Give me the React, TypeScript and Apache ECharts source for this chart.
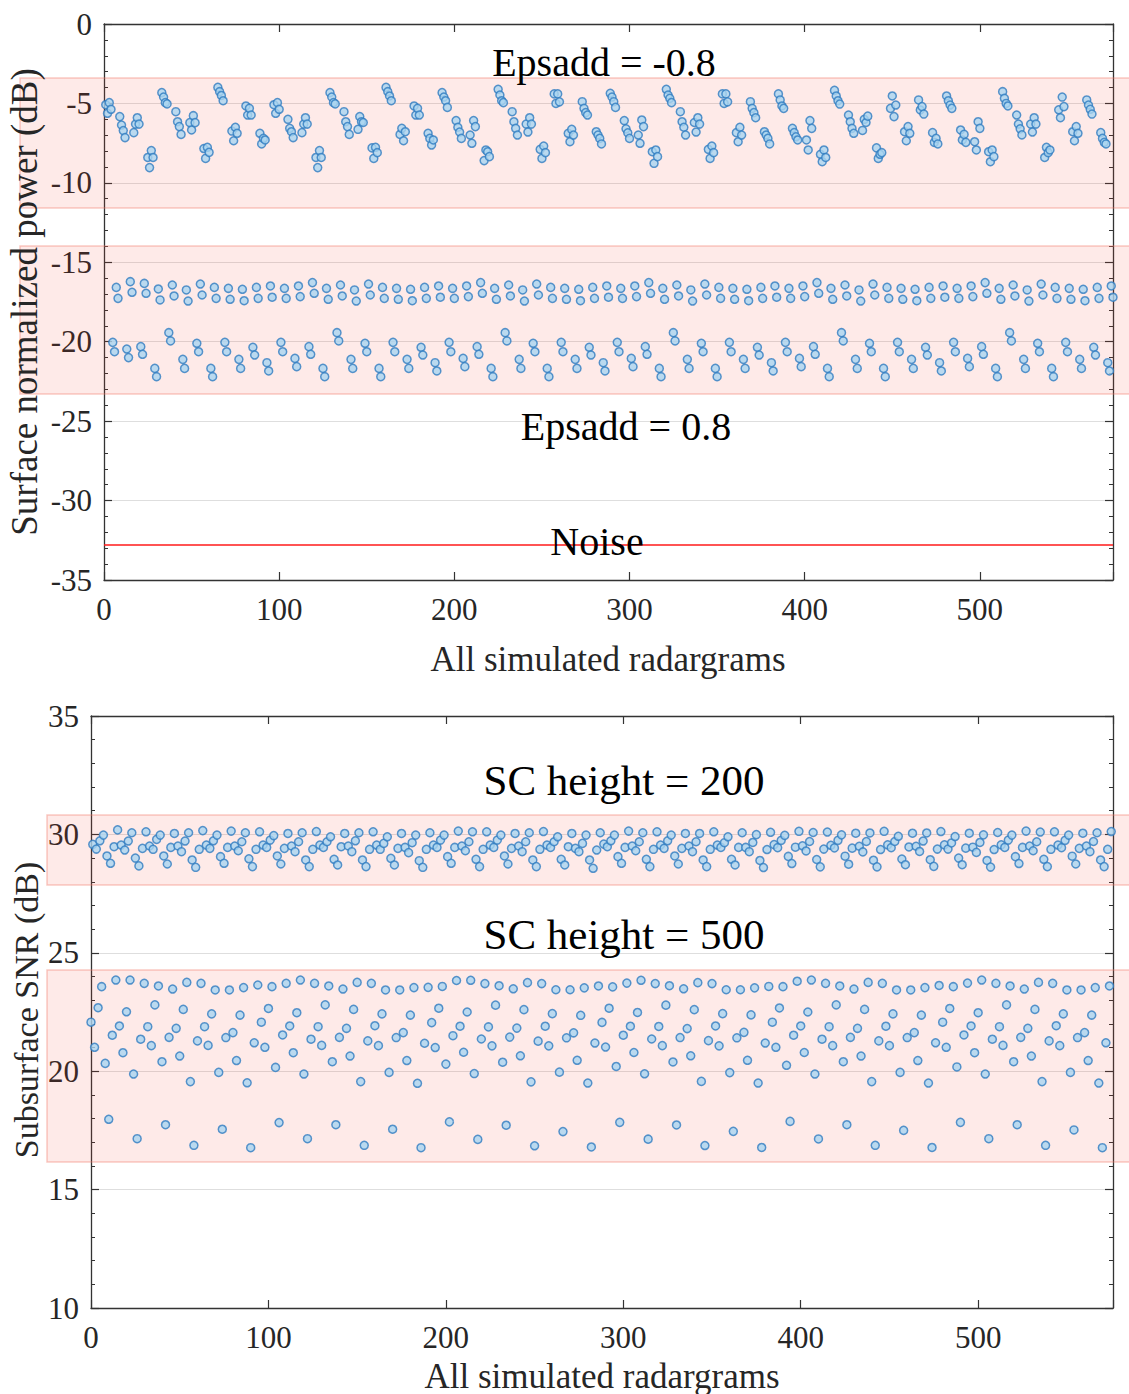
import React, { useEffect, useRef } from 'react';
import * as echarts from 'echarts';

// ---------------- DATA ----------------
const xMax = 576;
const noiseLevel = -32.8;

// Surface power, Epsadd = -0.8 : 72 blocks of 4 radargrams
const epsNeg: number[][] = [
  [-5.08, -5.62, -4.95, -5.37], [-5.83, -6.36, -6.71, -7.15], [-6.84, -6.3, -5.9, -6.3], [-8.4, -9.04, -7.97, -8.4],
  [-4.32, -4.6, -4.95, -5.03], [-5.52, -6.15, -6.46, -6.95], [-6.21, -6.67, -5.77, -6.21], [-7.84, -8.46, -7.76, -8.08],
  [-3.99, -4.26, -4.5, -4.83], [-6.74, -7.35, -6.5, -6.88], [-5.16, -5.73, -5.31, -5.73], [-6.88, -7.55, -7.2, -7.3],
  [-5.08, -5.62, -4.95, -5.37], [-6.0, -6.57, -6.78, -7.15], [-6.84, -6.3, -5.9, -6.3], [-8.4, -9.04, -7.97, -8.4],
  [-4.32, -4.6, -4.95, -5.03], [-5.52, -6.15, -6.46, -6.95], [-6.63, -5.83, -6.15, -6.2], [-7.8, -8.46, -7.76, -8.1],
  [-3.99, -4.26, -4.53, -4.83], [-6.95, -6.57, -7.35, -6.78], [-5.16, -5.73, -5.31, -5.73], [-6.88, -7.2, -7.62, -7.3],
  [-4.32, -4.6, -4.83, -5.25], [-6.08, -6.5, -6.8, -7.2], [-6.99, -7.51, -6.08, -6.46], [-8.6, -7.93, -8.04, -8.35],
  [-4.11, -4.47, -4.83, -4.95], [-5.52, -6.15, -6.57, -6.99], [-6.3, -6.8, -5.9, -6.3], [-7.89, -8.46, -7.68, -8.1],
  [-4.4, -5.0, -4.4, -4.9], [-6.88, -7.41, -6.63, -6.99], [-4.89, -5.31, -5.58, -5.73], [-6.78, -6.99, -7.2, -7.55],
  [-4.36, -4.6, -4.89, -5.25], [-6.08, -6.6, -6.85, -7.2], [-6.99, -7.51, -6.04, -6.46], [-8.04, -8.77, -7.93, -8.35],
  [-4.11, -4.47, -4.68, -4.95], [-5.52, -6.15, -6.5, -6.99], [-6.2, -6.8, -5.9, -6.3], [-7.89, -8.46, -7.68, -8.1],
  [-4.4, -5.0, -4.4, -4.9], [-6.84, -7.41, -6.5, -6.99], [-4.89, -5.31, -5.58, -5.9], [-6.78, -6.99, -7.2, -7.55],
  [-4.4, -4.78, -5.16, -5.31], [-6.57, -6.84, -7.1, -7.3], [-7.3, -7.93, -6.08, -6.57], [-8.2, -8.67, -7.93, -8.4],
  [-4.18, -4.53, -4.83, -5.04], [-5.73, -6.15, -6.57, -6.88], [-6.7, -6.0, -6.2, -5.8], [-7.8, -8.46, -8.2, -8.1],
  [-5.31, -4.53, -5.83, -5.1], [-6.78, -7.35, -6.46, -6.88], [-4.78, -5.41, -5.2, -5.67], [-6.84, -7.45, -7.2, -7.55],
  [-4.53, -4.83, -5.1, -5.31], [-6.67, -7.3, -6.95, -7.45], [-7.41, -7.93, -6.15, -6.57], [-8.04, -8.67, -7.93, -8.35],
  [-4.26, -4.68, -5.0, -5.16], [-5.73, -6.3, -6.6, -6.98], [-6.3, -6.8, -5.9, -6.3], [-8.4, -7.76, -8.1, -7.93],
  [-5.4, -5.9, -4.6, -5.2], [-6.78, -7.35, -6.46, -6.88], [-4.78, -5.1, -5.37, -5.67], [-6.84, -7.2, -7.45, -7.55],
];

// Surface power, Epsadd = 0.8 : lower pair per block
const epsPosLow: number[][] = [
  [-20.04, -20.63], [-20.46, -21.0], [-20.31, -20.79], [-21.68, -22.2], [-19.43, -19.95], [-21.11, -21.68],
  [-20.1, -20.63], [-21.68, -22.2], [-20.04, -20.63], [-21.11, -21.68], [-20.35, -20.84], [-21.32, -21.84],
  [-20.04, -20.63], [-21.05, -21.57], [-20.31, -20.79], [-21.68, -22.2], [-19.43, -19.95], [-21.11, -21.68],
  [-20.1, -20.63], [-21.68, -22.2], [-20.04, -20.63], [-21.11, -21.68], [-20.35, -20.84], [-21.32, -21.84],
  [-20.04, -20.63], [-21.05, -21.57], [-20.31, -20.79], [-21.68, -22.2], [-19.43, -19.95], [-21.11, -21.68],
  [-20.1, -20.63], [-21.68, -22.2], [-20.04, -20.63], [-21.11, -21.68], [-20.35, -20.84], [-21.32, -21.84],
  [-20.04, -20.63], [-21.05, -21.57], [-20.31, -20.79], [-21.68, -22.2], [-19.43, -19.95], [-21.11, -21.68],
  [-20.1, -20.63], [-21.68, -22.2], [-20.04, -20.63], [-21.11, -21.68], [-20.35, -20.84], [-21.32, -21.84],
  [-20.04, -20.63], [-21.05, -21.57], [-20.31, -20.79], [-21.68, -22.2], [-19.43, -19.95], [-21.11, -21.68],
  [-20.1, -20.63], [-21.68, -22.2], [-20.04, -20.63], [-21.11, -21.68], [-20.35, -20.84], [-21.32, -21.84],
  [-20.04, -20.63], [-21.05, -21.57], [-20.31, -20.79], [-21.68, -22.2], [-19.43, -19.95], [-21.11, -21.68],
  [-20.1, -20.63], [-21.68, -22.2], [-20.04, -20.63], [-21.11, -21.68], [-20.35, -20.84], [-21.32, -21.84],
];

// Surface power, Epsadd = 0.8 : upper pair per block
const epsPosHigh: number[][] = [
  [-16.58, -17.27], [-16.22, -16.89], [-16.33, -16.95], [-16.68, -17.37], [-16.43, -17.12], [-16.74, -17.44],
  [-16.37, -17.06], [-16.58, -17.27], [-16.64, -17.33], [-16.7, -17.42], [-16.58, -17.27], [-16.49, -17.2],
  [-16.64, -17.27], [-16.49, -17.16], [-16.28, -16.95], [-16.64, -17.33], [-16.43, -17.12], [-16.74, -17.44],
  [-16.37, -17.06], [-16.58, -17.27], [-16.64, -17.33], [-16.7, -17.42], [-16.58, -17.27], [-16.49, -17.2],
  [-16.64, -17.27], [-16.49, -17.16], [-16.28, -16.95], [-16.64, -17.33], [-16.43, -17.12], [-16.74, -17.44],
  [-16.37, -17.06], [-16.58, -17.27], [-16.64, -17.33], [-16.7, -17.42], [-16.58, -17.27], [-16.49, -17.2],
  [-16.64, -17.27], [-16.49, -17.16], [-16.28, -16.95], [-16.64, -17.33], [-16.43, -17.12], [-16.74, -17.44],
  [-16.37, -17.06], [-16.58, -17.27], [-16.64, -17.33], [-16.7, -17.42], [-16.58, -17.27], [-16.49, -17.2],
  [-16.64, -17.27], [-16.49, -17.16], [-16.28, -16.95], [-16.64, -17.33], [-16.43, -17.12], [-16.74, -17.44],
  [-16.37, -17.06], [-16.58, -17.27], [-16.64, -17.33], [-16.7, -17.42], [-16.58, -17.27], [-16.49, -17.2],
  [-16.64, -17.27], [-16.49, -17.16], [-16.28, -16.95], [-16.64, -17.33], [-16.43, -17.12], [-16.74, -17.44],
  [-16.37, -17.06], [-16.58, -17.27], [-16.64, -17.33], [-16.7, -17.42], [-16.58, -17.27], [-16.49, -17.2],
];

// Subsurface SNR, SC height = 200 : 36 groups of 8
const sc200: number[][] = [
  [29.58, 29.38, 29.73, 29.97, 29.09, 28.78, 29.48, 30.19], [29.55, 29.34, 29.72, 30.07, 29.0, 28.67, 29.41, 30.11],
  [29.51, 29.37, 29.79, 29.97, 29.09, 28.75, 29.45, 30.04], [29.51, 29.27, 29.72, 30.07, 28.92, 28.61, 29.37, 30.16],
  [29.55, 29.41, 29.73, 29.97, 29.06, 28.78, 29.45, 30.14], [29.51, 29.31, 29.69, 30.07, 28.97, 28.64, 29.37, 30.11],
  [29.55, 29.45, 29.76, 29.95, 29.09, 28.75, 29.41, 30.04], [29.51, 29.27, 29.69, 30.07, 28.92, 28.64, 29.37, 30.12],
  [29.55, 29.45, 29.69, 29.9, 28.95, 28.71, 29.48, 30.04], [29.51, 29.27, 29.73, 30.07, 28.92, 28.64, 29.37, 30.11],
  [29.55, 29.37, 29.62, 29.9, 28.99, 28.71, 29.41, 30.04], [29.45, 29.23, 29.65, 29.97, 28.89, 28.61, 29.37, 30.07],
  [29.55, 29.45, 29.76, 29.97, 29.06, 28.78, 29.45, 30.14], [29.51, 29.31, 29.69, 30.11, 28.95, 28.64, 29.37, 30.11],
  [29.55, 29.45, 29.76, 29.97, 29.09, 28.75, 29.41, 30.04], [29.51, 29.27, 29.69, 30.07, 28.92, 28.64, 29.37, 30.12],
  [29.55, 29.45, 29.69, 29.9, 28.95, 28.71, 29.48, 30.04], [29.41, 29.27, 29.62, 29.97, 28.92, 28.57, 29.34, 30.07],
  [29.59, 29.48, 29.73, 29.97, 29.06, 28.78, 29.45, 30.14], [29.51, 29.31, 29.69, 30.07, 28.95, 28.64, 29.37, 30.11],
  [29.55, 29.41, 29.73, 29.97, 29.09, 28.75, 29.41, 30.04], [29.51, 29.27, 29.69, 30.04, 28.92, 28.64, 29.37, 30.11],
  [29.55, 29.45, 29.65, 29.9, 28.95, 28.71, 29.45, 30.07], [29.45, 29.27, 29.66, 29.99, 28.9, 28.6, 29.36, 30.09],
  [29.57, 29.44, 29.75, 29.96, 29.07, 28.77, 29.46, 30.13], [29.52, 29.3, 29.7, 30.08, 28.94, 28.63, 29.38, 30.1],
  [29.54, 29.43, 29.75, 29.98, 29.08, 28.74, 29.42, 30.05], [29.5, 29.26, 29.7, 30.06, 28.91, 28.63, 29.36, 30.13],
  [29.56, 29.44, 29.7, 29.92, 28.96, 28.72, 29.47, 30.05], [29.5, 29.28, 29.72, 30.06, 28.93, 28.65, 29.38, 30.12],
  [29.56, 29.38, 29.64, 29.91, 29.0, 28.72, 29.42, 30.05], [29.46, 29.24, 29.66, 29.98, 28.9, 28.62, 29.36, 30.08],
  [29.56, 29.45, 29.76, 29.97, 29.06, 28.77, 29.45, 30.14], [29.51, 29.31, 29.69, 30.1, 28.95, 28.64, 29.37, 30.11],
  [29.55, 29.44, 29.75, 29.97, 29.08, 28.75, 29.41, 30.05], [29.51, 29.27, 29.7, 30.07, 28.92, 28.64, 29.37, 30.12],
];

// Subsurface SNR, SC height = 500 : 36 groups of 8
const sc500: number[][] = [
  [22.07, 21.01, 22.68, 23.57, 20.33, 17.97, 21.52, 23.85], [21.91, 20.78, 22.51, 23.85, 19.88, 17.15, 21.35, 23.71],
  [21.88, 21.08, 22.8, 23.6, 20.4, 17.74, 21.43, 23.47], [21.81, 20.64, 22.61, 23.75, 19.56, 16.87, 21.28, 23.71],
  [21.88, 21.09, 22.42, 23.43, 19.95, 17.55, 21.42, 23.43], [21.63, 20.45, 22.37, 23.53, 19.51, 16.77, 21.2, 23.64],
  [22.07, 21.01, 22.65, 23.57, 20.16, 17.83, 21.53, 23.71], [21.91, 20.78, 22.47, 23.85, 19.88, 17.15, 21.35, 23.71],
  [21.88, 21.09, 22.8, 23.6, 20.4, 17.74, 21.43, 23.47], [21.81, 20.64, 22.61, 23.75, 19.56, 16.87, 21.28, 23.71],
  [21.92, 21.08, 22.42, 23.43, 19.95, 17.55, 21.42, 23.43], [21.63, 20.45, 22.37, 23.53, 19.49, 16.77, 21.18, 23.54],
  [22.05, 21.0, 22.66, 23.58, 20.3, 17.86, 21.5, 23.83], [21.9, 20.8, 22.5, 23.84, 19.9, 17.12, 21.36, 23.7],
  [21.87, 21.07, 22.79, 23.61, 20.38, 17.72, 21.44, 23.48], [21.82, 20.65, 22.6, 23.74, 19.55, 16.85, 21.27, 23.7],
  [21.9, 21.07, 22.43, 23.44, 19.96, 17.45, 21.41, 23.44], [21.62, 20.46, 22.36, 23.52, 19.5, 16.8, 21.19, 23.6],
  [22.06, 21.02, 22.66, 23.56, 20.2, 17.84, 21.52, 23.72], [21.9, 20.79, 22.48, 23.84, 19.89, 17.13, 21.36, 23.7],
  [21.89, 21.08, 22.79, 23.61, 20.39, 17.73, 21.42, 23.48], [21.8, 20.65, 22.6, 23.74, 19.57, 16.86, 21.29, 23.7],
  [21.91, 21.07, 22.43, 23.44, 19.94, 17.46, 21.41, 23.44], [21.64, 20.46, 22.38, 23.52, 19.5, 16.78, 21.19, 23.58],
  [22.07, 21.01, 22.67, 23.57, 20.25, 17.88, 21.52, 23.8], [21.91, 20.79, 22.5, 23.85, 19.88, 17.14, 21.35, 23.71],
  [21.88, 21.08, 22.8, 23.6, 20.4, 17.74, 21.43, 23.47], [21.81, 20.64, 22.61, 23.75, 19.56, 16.87, 21.28, 23.71],
  [21.9, 21.08, 22.42, 23.43, 19.95, 17.5, 21.42, 23.43], [21.63, 20.45, 22.37, 23.53, 19.5, 16.78, 21.2, 23.62],
  [22.07, 21.01, 22.65, 23.57, 20.18, 17.84, 21.53, 23.72], [21.91, 20.78, 22.47, 23.85, 19.88, 17.15, 21.35, 23.71],
  [21.88, 21.09, 22.8, 23.6, 20.4, 17.74, 21.43, 23.47], [21.81, 20.64, 22.61, 23.75, 19.56, 16.87, 21.28, 23.71],
  [21.92, 21.08, 22.42, 23.43, 19.95, 17.52, 21.42, 23.43], [21.63, 20.45, 22.37, 23.53, 19.5, 16.77, 21.2, 23.6],
];

// Highlighted ranges (value-space) for the shaded bands
const topBands: number[][] = [[-3.4, -11.58], [-13.97, -23.29]];
const bottomBands: number[][] = [[30.82, 27.86], [24.27, 16.17]];

// ---------------- BUILD ----------------
const SERIF = "'Liberation Serif', 'Times New Roman', serif";
const AX = '#333333';
const LBL = '#262626';

function buildTop() {
  const neg: number[][] = [];
  epsNeg.forEach((blk, k) => blk.forEach((v, o) => neg.push([8 * k + o + 1, v])));
  const pos: number[][] = [];
  epsPosLow.forEach((p, k) => p.forEach((v, o) => pos.push([8 * k + 5 + o, v])));
  epsPosHigh.forEach((p, k) => p.forEach((v, o) => pos.push([8 * k + 7 + o, v])));
  return { neg, pos };
}
function buildBottom() {
  const a: number[][] = [];
  sc200.forEach((g, k) => g.forEach((v, o) => a.push([2 * (8 * k + o) + 1, v])));
  const b: number[][] = [];
  sc500.forEach((g, k) => g.forEach((v, o) => b.push([2 * (8 * k + o), v])));
  return { a, b };
}

const marker = {
  symbol: 'circle',
  symbolSize: 8,
  itemStyle: { color: '#a9d4f0', borderColor: '#2f7cc0', borderWidth: 1.5 },
};

function xAx(grid: number, pos: 'bottom' | 'top', labels: boolean) {
  return {
    type: 'value', gridIndex: grid, position: pos, min: 0, max: xMax, interval: 100,
    axisLine: { show: true, onZero: false, lineStyle: { color: AX, width: 1.3 } },
    axisTick: { show: true, inside: true, length: 8, lineStyle: { color: AX, width: 1.2 } },
    minorTick: { show: false },
    splitLine: { show: false },
    axisLabel: {
      show: labels, fontFamily: SERIF, fontSize: 31, color: LBL, margin: 14,
      formatter: (v: number) => (v % 100 === 0 ? String(v) : ''),
    },
  };
}
function yAx(grid: number, pos: 'left' | 'right', min: number, max: number, labels: boolean, split: boolean) {
  return {
    type: 'value', gridIndex: grid, position: pos, min, max, interval: 5,
    axisLine: { show: true, onZero: false, lineStyle: { color: AX, width: 1.3 } },
    axisTick: { show: true, inside: true, length: 8, lineStyle: { color: AX, width: 1.2 } },
    minorTick: { show: true, splitNumber: 5, length: 4, lineStyle: { color: AX, width: 1 } },
    splitLine: { show: split, lineStyle: { color: '#dedede', width: 1 } },
    axisLabel: { show: labels, fontFamily: SERIF, fontSize: 31, color: LBL, margin: 12 },
  };
}

export default function App() {
  const ref = useRef<HTMLDivElement>(null);
  useEffect(() => {
    document.body.style.margin = '0';
    const chart = echarts.init(ref.current as HTMLDivElement, null, { renderer: 'svg' });
    const top = buildTop();
    const bot = buildBottom();
    chart.setOption({
      animation: false,
      backgroundColor: '#ffffff',
      grid: [
        { left: 104, top: 24, width: 1009, height: 556, containLabel: false },
        { left: 91, top: 716, width: 1022, height: 592, containLabel: false },
      ],
      xAxis: [xAx(0, 'bottom', true), xAx(0, 'top', false), xAx(1, 'bottom', true), xAx(1, 'top', false)],
      yAxis: [
        yAx(0, 'left', -35, 0, true, true), yAx(0, 'right', -35, 0, false, false),
        yAx(1, 'left', 10, 35, true, true), yAx(1, 'right', 10, 35, false, false),
      ],
      series: [
        {
          type: 'scatter', name: 'Epsadd = -0.8', xAxisIndex: 0, yAxisIndex: 0, data: top.neg, ...marker, z: 5,
          markLine: {
            silent: true, symbol: 'none', animation: false,
            lineStyle: { color: '#ff1a1a', width: 1.6, type: 'solid' },
            label: { show: false },
            data: [{ yAxis: noiseLevel }],
          },
        },
        { type: 'scatter', name: 'Epsadd = 0.8', xAxisIndex: 0, yAxisIndex: 0, data: top.pos, ...marker, z: 5 },
        { type: 'scatter', name: 'SC height = 200', xAxisIndex: 2, yAxisIndex: 2, data: bot.a, ...marker, z: 5 },
        { type: 'scatter', name: 'SC height = 500', xAxisIndex: 2, yAxisIndex: 2, data: bot.b, ...marker, z: 5 },
      ],
    });

    const py = (axis: number, v: number) => chart.convertToPixel({ yAxisIndex: axis }, v) as number;
    const bandStyle = { fill: 'rgba(250, 60, 50, 0.11)', stroke: 'rgba(240, 120, 105, 0.4)', lineWidth: 1.5 };
    const bands: any[] = [];
    topBands.forEach(([a, b]) => {
      const y1 = py(0, a), y2 = py(0, b);
      bands.push({ type: 'rect', z: 1, silent: true, shape: { x: 20, y: y1, width: 1120, height: y2 - y1 }, style: bandStyle });
    });
    bottomBands.forEach(([a, b]) => {
      const y1 = py(2, a), y2 = py(2, b);
      bands.push({ type: 'rect', z: 1, silent: true, shape: { x: 47, y: y1, width: 1100, height: y2 - y1 }, style: bandStyle });
    });
    const txt = (x: number, y: number, text: string, size: number, rot = 0, color = '#000') => ({
      type: 'text', x, y, rotation: rot, z: 60, silent: true,
      style: { text, fill: color, font: `${size}px ${SERIF}`, textAlign: 'center', textVerticalAlign: 'middle' },
    });
    chart.setOption({
      graphic: [
        ...bands,
        txt(604, 62, 'Epsadd = -0.8', 40),
        txt(626, 426, 'Epsadd = 0.8', 40),
        txt(597, 541, 'Noise', 40),
        txt(608, 659, 'All simulated radargrams', 35, 0, LBL),
        txt(24, 302, 'Surface normalized power (dB)', 37, Math.PI / 2, LBL),
        txt(624, 780, 'SC height = 200', 43),
        txt(624, 934, 'SC height = 500', 43),
        txt(602, 1376, 'All simulated radargrams', 35, 0, LBL),
        txt(26, 1010, 'Subsurface SNR (dB)', 34, Math.PI / 2, LBL),
      ],
    });
    return () => chart.dispose();
  }, []);
  return <div ref={ref} style={{ width: 1129, height: 1394 }} />;
}
